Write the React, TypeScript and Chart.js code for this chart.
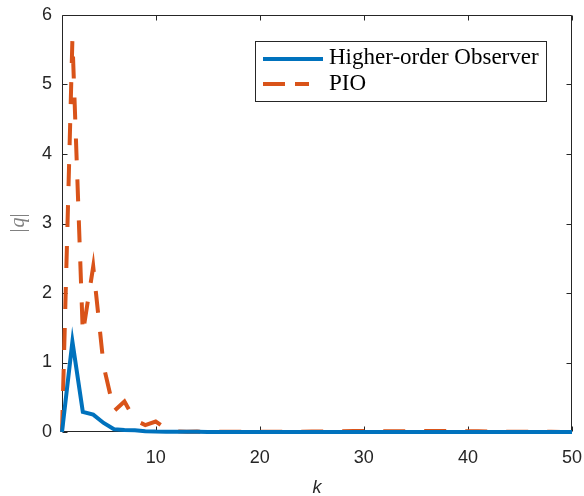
import { useEffect, useRef } from "react";
import { Chart, registerables } from "chart.js";

Chart.register(...registerables);

// ---- data ----
const kValues = [
  1, 2, 3, 4, 5, 6, 7, 8, 9, 10,
  11, 12, 13, 14, 15, 16, 17, 18, 19, 20,
  21, 22, 23, 24, 25, 26, 27, 28, 29, 30,
  31, 32, 33, 34, 35, 36, 37, 38, 39, 40,
  41, 42, 43, 44, 45, 46, 47, 48, 49, 50,
];
const higherOrder = [
  0, 1.3, 0.29, 0.25, 0.13, 0.04, 0.03, 0.025, 0.012, 0.006,
  0.004, 0.003, 0.002, 0.002, 0.001, 0.001, 0.001, 0.001, 0, 0,
  0, 0, 0, 0, 0, 0, 0, 0, 0, 0,
  0, 0, 0, 0, 0, 0, 0, 0, 0, 0,
  0, 0, 0, 0, 0, 0, 0, 0, 0, 0,
];
const pio = [
  0, 5.65, 1.42, 2.38, 0.95, 0.3, 0.44, 0.17, 0.1, 0.15,
  0.05, 0.01, 0.004, 0.006, 0.003, 0.002, 0.002, 0.002, 0.002, 0.002,
  0.002, 0.003, 0.004, 0.005, 0.006, 0.008, 0.01, 0.012, 0.014, 0.015,
  0.014, 0.012, 0.01, 0.01, 0.012, 0.014, 0.015, 0.015, 0.014, 0.012,
  0.01, 0.008, 0.006, 0.005, 0.004, 0.003, 0.002, 0.002, 0.001, 0.001,
];
const seriesNames = ["Higher-order Observer", "PIO"];
const seriesColors = ["#0072BD", "#D95319"];
const xTicks = [10, 20, 30, 40, 50];
const yTicks = [0, 1, 2, 3, 4, 5, 6];
const xTitle = "k";
const yTitleParts = ["|", "q", "|"];

const AXIS_COLOR = "#262626";
const TICK_FONT = { family: "'Liberation Sans', Arial, Helvetica, sans-serif", size: 18 };

const zeroPad = (s: any) => {
  s.paddingLeft = 0;
  s.paddingRight = 0;
  s.paddingTop = 0;
  s.paddingBottom = 0;
};

const axesPlugin = {
  id: "matlabAxes",
  beforeDatasetsDraw(chart: any) {
    const { ctx, chartArea } = chart;
    const xs = chart.scales.x;
    const ys = chart.scales.y;
    const L = Math.round(chartArea.left) + 0.5;
    const R = Math.round(chartArea.right) - 0.5;
    const T = Math.round(chartArea.top) + 0.5;
    const B = Math.round(chartArea.bottom) - 0.5;
    ctx.save();
    ctx.strokeStyle = AXIS_COLOR;
    ctx.lineWidth = 1;
    ctx.beginPath();
    ctx.rect(L, T, R - L, B - T);
    const tl = 5;
    for (const v of xTicks) {
      const px = Math.round(xs.getPixelForValue(v)) + 0.5;
      ctx.moveTo(px, B);
      ctx.lineTo(px, B - tl);
      ctx.moveTo(px, T);
      ctx.lineTo(px, T + tl);
    }
    for (const v of yTicks) {
      const py = Math.round(ys.getPixelForValue(v)) + 0.5;
      ctx.moveTo(L, py);
      ctx.lineTo(L + tl, py);
      ctx.moveTo(R, py);
      ctx.lineTo(R - tl, py);
    }
    ctx.stroke();
    ctx.restore();
  },
  afterDraw(chart: any) {
    const { ctx, chartArea } = chart;
    ctx.save();
    // x title
    ctx.fillStyle = AXIS_COLOR;
    ctx.font = "italic 18px 'Liberation Sans', Arial, sans-serif";
    ctx.textAlign = "center";
    ctx.textBaseline = "alphabetic";
    ctx.fillText(xTitle, (chartArea.left + chartArea.right) / 2, 493);

    // y title (rotated, mixed styles)
    ctx.save();
    ctx.translate(19, (chartArea.top + chartArea.bottom) / 2);
    ctx.rotate(-Math.PI / 2);
    ctx.fillStyle = "#808080";
    ctx.textBaseline = "middle";
    ctx.textAlign = "left";
    const fonts = [
      "20px 'Liberation Serif', 'Times New Roman', serif",
      "italic 20px 'Liberation Serif', 'Times New Roman', serif",
      "20px 'Liberation Serif', 'Times New Roman', serif",
    ];
    let total = 0;
    const widths: number[] = [];
    yTitleParts.forEach((p, i) => {
      ctx.font = fonts[i];
      const w = ctx.measureText(p).width;
      widths.push(w);
      total += w;
    });
    let cx = -total / 2;
    yTitleParts.forEach((p, i) => {
      ctx.font = fonts[i];
      ctx.fillText(p, cx, 0);
      cx += widths[i] + (i === 0 ? 1 : 0);
    });
    ctx.restore();

    // legend
    const bx = 255.5, by = 41.5, bw = 291, bh = 60;
    ctx.fillStyle = "#ffffff";
    ctx.fillRect(bx, by, bw, bh);
    ctx.strokeStyle = AXIS_COLOR;
    ctx.lineWidth = 1;
    ctx.strokeRect(bx, by, bw, bh);
    const rows = [59, 84];
    const baselines = [63.5, 89.5];
    chart.data.datasets.forEach((ds: any, i: number) => {
      ctx.save();
      ctx.strokeStyle = ds.borderColor;
      ctx.lineWidth = 4;
      ctx.lineCap = "butt";
      if (i === 1) ctx.setLineDash([22, 10]);
      ctx.beginPath();
      ctx.moveTo(263, rows[i]);
      ctx.lineTo(i === 1 ? 309 : 323, rows[i]);
      ctx.stroke();
      ctx.restore();
      ctx.fillStyle = "#000000";
      ctx.font = "23px 'Liberation Serif', 'Times New Roman', serif";
      ctx.textAlign = "left";
      ctx.textBaseline = "alphabetic";
      ctx.fillText(ds.label, 329, baselines[i]);
    });
    ctx.restore();
  },
};

export default function App() {
  const canvasRef = useRef<HTMLCanvasElement | null>(null);

  useEffect(() => {
    const canvas = canvasRef.current;
    if (!canvas) return;
    const chart = new Chart(canvas, {
      type: "line",
      data: {
        datasets: [
          {
            label: seriesNames[0],
            data: kValues.map((k, i) => ({ x: k, y: higherOrder[i] })),
            borderColor: seriesColors[0],
            backgroundColor: seriesColors[0],
            borderWidth: 4,
            pointRadius: 0,
            tension: 0,
            clip: false as any,
          },
          {
            label: seriesNames[1],
            data: kValues.map((k, i) => ({ x: k, y: pio[i] })),
            borderColor: seriesColors[1],
            backgroundColor: seriesColors[1],
            borderWidth: 4,
            borderDash: [22, 19],
            pointRadius: 0,
            tension: 0,
            clip: false as any,
          },
        ],
      },
      options: {
        responsive: false,
        animation: false,
        devicePixelRatio: 1,
        layout: { padding: { top: 15, right: 12, left: 0, bottom: 0 } },
        plugins: {
          legend: { display: false },
          tooltip: { enabled: false },
          title: { display: false },
        },
        scales: {
          x: {
            type: "linear",
            min: 1,
            max: 50,
            afterBuildTicks: (s: any) => {
              s.ticks = xTicks.map((v) => ({ value: v }));
            },
            afterFit: (s: any) => {
              s.height = 64;
              zeroPad(s);
            },
            grid: { display: false, drawTicks: false },
            border: { display: false },
            ticks: {
              padding: 15,
              color: AXIS_COLOR,
              font: TICK_FONT,
              maxRotation: 0,
              autoSkip: false,
            },
          },
          y: {
            type: "linear",
            min: 0,
            max: 6,
            afterBuildTicks: (s: any) => {
              s.ticks = yTicks.map((v) => ({ value: v }));
            },
            afterFit: (s: any) => {
              s.width = 62;
              zeroPad(s);
            },
            grid: { display: false, drawTicks: false },
            border: { display: false },
            ticks: {
              padding: 10,
              color: AXIS_COLOR,
              font: TICK_FONT,
              autoSkip: false,
            },
          },
        },
      },
      plugins: [axesPlugin],
    });
    return () => chart.destroy();
  }, []);

  return (
    <div style={{ position: "fixed", left: 0, top: 0, width: 584, height: 496, background: "#fff" }}>
      <canvas ref={canvasRef} width={584} height={496} style={{ width: 584, height: 496, display: "block" }} />
    </div>
  );
}
